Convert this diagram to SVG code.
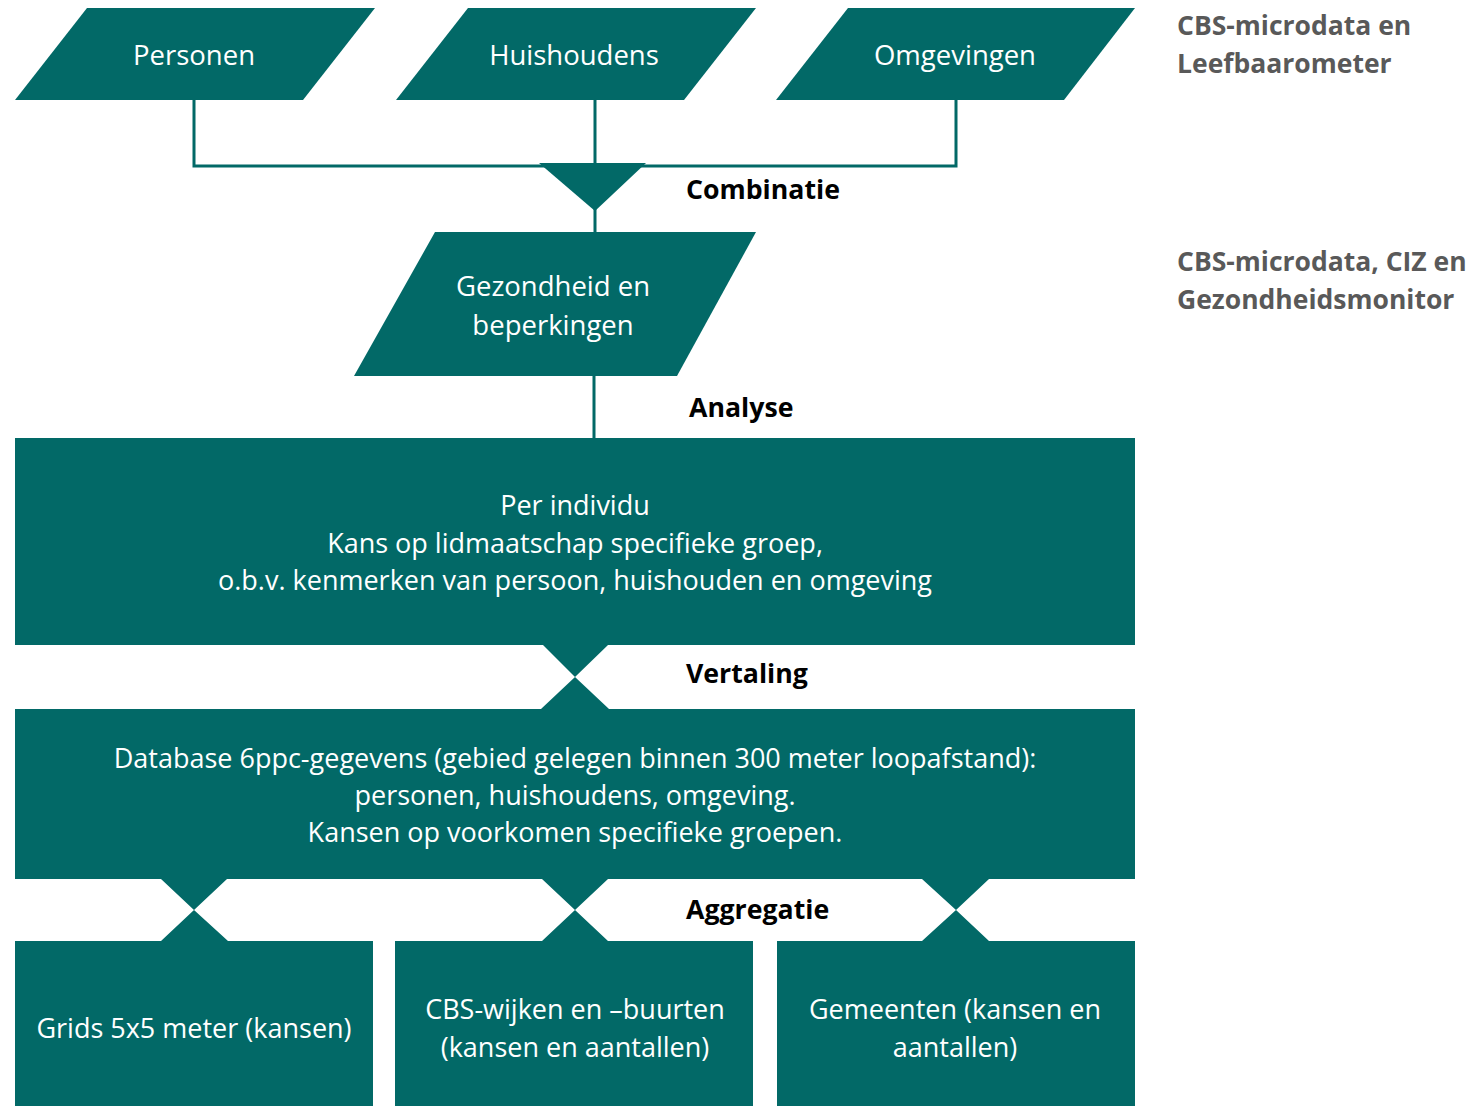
<svg xmlns="http://www.w3.org/2000/svg" width="1473" height="1106" viewBox="0 0 1473 1106">
<style>
.s{fill:#026967}
.w{fill:#ffffff;font-family:"Open Sans","Liberation Sans",sans-serif;font-size:27px;text-anchor:middle}
.p{font-size:27.5px}
.l{fill:#000000;font-family:"Open Sans","Liberation Sans",sans-serif;font-size:26.7px;font-weight:bold}
.g{fill:#595959;font-family:"Open Sans","Liberation Sans",sans-serif;font-size:26.5px;font-weight:bold}
.c{fill:none;stroke:#026967;stroke-width:3}
</style>
<rect width="1473" height="1106" fill="#ffffff"/>
<g id="connectors">
<path class="c" d="M194 100 V166 H956 V100 M595 100 V166 M595 200 V233 M594 376 V439"/>
<polygon class="s" points="539,163 646,163 595,211"/>
<polygon class="s" points="543,645 608,645 575,677 609,709 541,709 575,677"/>
<polygon class="s" points="161,879 227,879 194,910 228,941 161,941 194,910"/>
<polygon class="s" points="542,879 608,879 575,910 608,941 542,941 575,910"/>
<polygon class="s" points="922,879 989,879 956,910 989,941 922,941 956,910"/>
</g>
<g id="personen">
<polygon class="s" points="87,8 375,8 303,100 15,100"/>
<text class="w p" x="194" y="65">Personen</text>
</g>
<g id="huishoudens">
<polygon class="s" points="468,8 756,8 684,100 396,100"/>
<text class="w p" x="574" y="65">Huishoudens</text>
</g>
<g id="omgevingen">
<polygon class="s" points="848,8 1135,8 1064,100 776,100"/>
<text class="w p" x="955" y="65">Omgevingen</text>
</g>
<g id="bron1">
<text class="g" x="1177" y="35">CBS-microdata en</text>
<text class="g" x="1177" y="73">Leefbaarometer</text>
</g>
<g id="gezondheid">
<polygon class="s" points="435,232 756,232 677,376 354,376"/>
<text class="w p" x="553" y="296">Gezondheid en</text>
<text class="w p" x="553" y="335">beperkingen</text>
</g>
<g id="bron2">
<text class="g" x="1177" y="271">CBS-microdata, CIZ en</text>
<text class="g" x="1177" y="309">Gezondheidsmonitor</text>
</g>
<g id="labels">
<text class="l" x="686" y="199">Combinatie</text>
<text class="l" x="689" y="417">Analyse</text>
<text class="l" x="686" y="683">Vertaling</text>
<text class="l" x="686" y="919">Aggregatie</text>
</g>
<g id="individu">
<rect class="s" x="15" y="438" width="1120" height="207"/>
<text class="w" x="575" y="515">Per individu</text>
<text class="w" x="575" y="553">Kans op lidmaatschap specifieke groep,</text>
<text class="w" x="575" y="590">o.b.v. kenmerken van persoon, huishouden en omgeving</text>
</g>
<g id="database">
<rect class="s" x="15" y="709" width="1120" height="170"/>
<text class="w" x="575" y="768">Database 6ppc-gegevens (gebied gelegen binnen 300 meter loopafstand):</text>
<text class="w" x="575" y="805">personen, huishoudens, omgeving.</text>
<text class="w" x="575" y="842">Kansen op voorkomen specifieke groepen.</text>
</g>
<g id="grids">
<rect class="s" x="15" y="941" width="358" height="165"/>
<text class="w" x="194" y="1038">Grids 5x5 meter (kansen)</text>
</g>
<g id="wijken">
<rect class="s" x="395" y="941" width="358" height="165"/>
<text class="w" x="575" y="1019">CBS-wijken en –buurten</text>
<text class="w" x="575" y="1057">(kansen en aantallen)</text>
</g>
<g id="gemeenten">
<rect class="s" x="777" y="941" width="358" height="165"/>
<text class="w" x="955" y="1019">Gemeenten (kansen en</text>
<text class="w" x="955" y="1057">aantallen)</text>
</g>
</svg>
